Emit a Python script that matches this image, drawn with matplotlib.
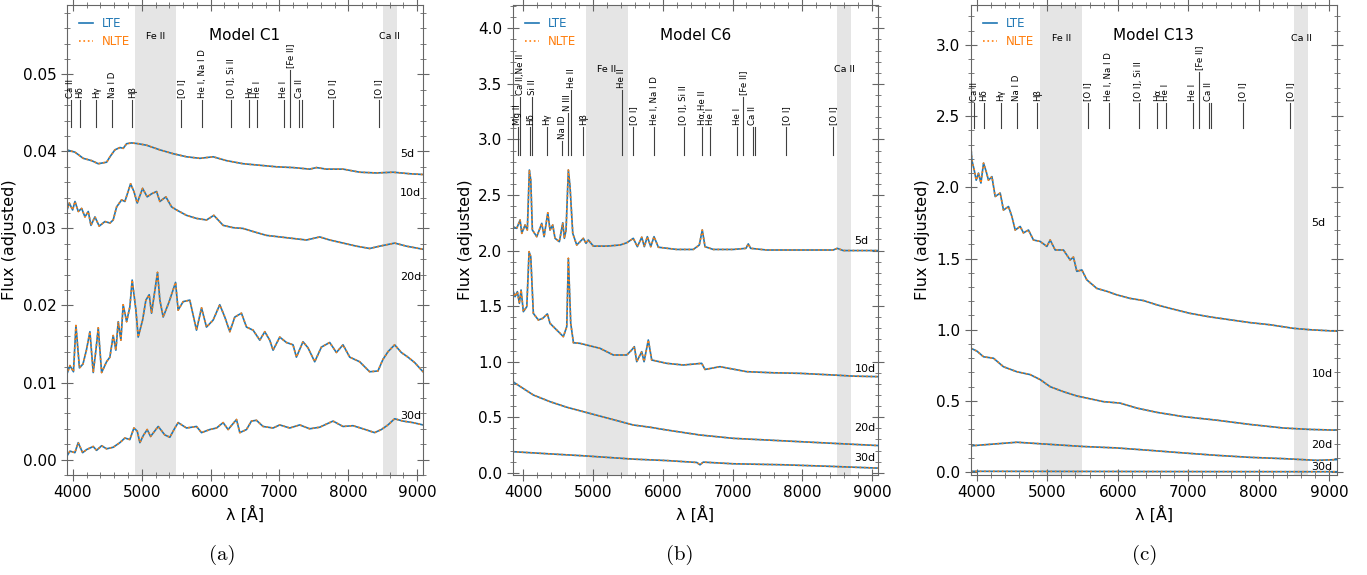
import matplotlib
matplotlib.use('Agg')
import matplotlib.pyplot as plt
from matplotlib.ticker import MultipleLocator
from matplotlib.transforms import blended_transform_factory

# ---------------- data ----------------
epochs = ['5d', '10d', '20d', '30d']

# Model C1
c1_wl_5d = [3909, 4030, 4150, 4272, 4368, 4490, 4538, 4610, 4683, 4731, 4780, 4852, 4948, 5070, 5263, 5456, 5650,
            5844, 6037, 6231, 6472, 6715, 6957, 7198, 7440, 7537, 7682, 7924, 8166, 8408, 8650, 8892, 9085]
c1_fx_5d = [0.0402, 0.0399, 0.0391, 0.0388, 0.0384, 0.0386, 0.0393, 0.0402, 0.0405, 0.0404, 0.0410, 0.0411, 0.0410,
            0.0408, 0.0402, 0.0397, 0.0393, 0.0391, 0.0393, 0.0388, 0.0384, 0.0382, 0.0380, 0.0379, 0.0377, 0.0379,
            0.0377, 0.0377, 0.0373, 0.0372, 0.0373, 0.0371, 0.0370]
c1_wl_10d = [3909, 3947, 3996, 4030, 4078, 4127, 4175, 4223, 4262, 4320, 4382, 4465, 4538, 4585, 4635, 4707, 4755,
             4838, 4886, 4934, 5012, 5079, 5143, 5215, 5263, 5350, 5433, 5505, 5650, 5796, 5941, 6047, 6182, 6327,
             6472, 6617, 6811, 7005, 7198, 7392, 7585, 7730, 7924, 8118, 8311, 8456, 8674, 8844, 9085]
c1_fx_10d = [0.0322, 0.0333, 0.0324, 0.0335, 0.0322, 0.0326, 0.0315, 0.0322, 0.0304, 0.0315, 0.0303, 0.0309, 0.0307,
             0.0311, 0.0328, 0.0337, 0.0335, 0.0358, 0.0348, 0.0333, 0.0352, 0.0341, 0.0345, 0.0348, 0.0335, 0.0341,
             0.0328, 0.0324, 0.0317, 0.0313, 0.0311, 0.0317, 0.0304, 0.0301, 0.0300, 0.0296, 0.0291, 0.0289, 0.0287,
             0.0285, 0.0289, 0.0285, 0.0281, 0.0277, 0.0274, 0.0277, 0.0281, 0.0277, 0.0273]
c1_wl_20d = [3909, 3957, 4008, 4044, 4095, 4146, 4196, 4247, 4295, 4334, 4368, 4417, 4489, 4537, 4585, 4624, 4658,
             4697, 4730, 4780, 4827, 4861, 4915, 4948, 5012, 5060, 5108, 5142, 5229, 5263, 5311, 5398, 5491, 5528,
             5601, 5698, 5795, 5868, 5940, 6036, 6133, 6206, 6279, 6351, 6448, 6521, 6617, 6714, 6787, 6859, 6907,
             7004, 7101, 7197, 7246, 7342, 7415, 7512, 7609, 7730, 7827, 7923, 8020, 8165, 8310, 8430, 8503, 8576,
             8673, 8770, 8866, 8963, 9085]
c1_fx_20d = [0.0110, 0.0122, 0.0114, 0.0174, 0.0119, 0.0124, 0.0142, 0.0166, 0.0113, 0.0142, 0.0171, 0.0113, 0.0127,
             0.0133, 0.0161, 0.0142, 0.0179, 0.0155, 0.0201, 0.0179, 0.0198, 0.0233, 0.0194, 0.0159, 0.0181, 0.0207,
             0.0214, 0.0190, 0.0243, 0.0207, 0.0185, 0.0205, 0.0230, 0.0194, 0.0205, 0.0207, 0.0168, 0.0197, 0.0172,
             0.0181, 0.0201, 0.0185, 0.0166, 0.0185, 0.0190, 0.0172, 0.0168, 0.0155, 0.0166, 0.0155, 0.0142, 0.0159,
             0.0152, 0.0149, 0.0133, 0.0153, 0.0145, 0.0127, 0.0146, 0.0152, 0.0139, 0.0149, 0.0133, 0.0127, 0.0114,
             0.0115, 0.0130, 0.0140, 0.0149, 0.0139, 0.0133, 0.0126, 0.0114]
c1_wl_30d = [3909, 3957, 4029, 4077, 4141, 4199, 4295, 4344, 4417, 4489, 4585, 4682, 4755, 4827, 4886, 4934, 4973,
             5021, 5079, 5128, 5239, 5335, 5408, 5481, 5529, 5650, 5795, 5868, 5988, 6086, 6182, 6254, 6376, 6424,
             6521, 6593, 6666, 6762, 6907, 7004, 7149, 7294, 7439, 7584, 7778, 7923, 8068, 8213, 8382, 8480, 8576,
             8673, 8793, 8938, 9085]
c1_fx_30d = [0.0004, 0.0011, 0.0009, 0.0022, 0.0009, 0.0013, 0.0017, 0.0012, 0.0018, 0.0014, 0.0016, 0.0022, 0.0028,
             0.0026, 0.0041, 0.0037, 0.0022, 0.0031, 0.0039, 0.0030, 0.0043, 0.0032, 0.0029, 0.0041, 0.0048, 0.0041,
             0.0043, 0.0035, 0.0039, 0.0041, 0.0048, 0.0039, 0.0052, 0.0035, 0.0039, 0.0050, 0.0051, 0.0043, 0.0041,
             0.0045, 0.0041, 0.0045, 0.0040, 0.0042, 0.0050, 0.0043, 0.0044, 0.0040, 0.0035, 0.0039, 0.0045, 0.0053,
             0.0050, 0.0048, 0.0045]

# Model C6
c6_wl_5d = [3850, 3907, 3955, 3979, 4026, 4059, 4088, 4108, 4131, 4194, 4266, 4299, 4352, 4384, 4423, 4456, 4518,
            4567, 4590, 4614, 4647, 4671, 4710, 4767, 4862, 4900, 4933, 5005, 5197, 5388, 5484, 5578, 5636, 5699,
            5736, 5779, 5828, 5875, 5937, 6200, 6438, 6524, 6567, 6606, 6725, 7011, 7193, 7226, 7260, 7490, 7967,
            8444, 8501, 8588, 9090]
c6_fx_5d = [2.215, 2.20, 2.275, 2.155, 2.23, 2.185, 2.725, 2.635, 2.185, 2.125, 2.245, 2.125, 2.34, 2.185, 2.23, 2.11,
            2.08, 2.25, 2.11, 2.185, 2.725, 2.575, 2.155, 2.05, 2.11, 2.065, 2.095, 2.04, 2.04, 2.05, 2.07, 2.11,
            2.035, 2.12, 2.035, 2.125, 2.035, 2.125, 2.03, 2.01, 2.01, 2.05, 2.185, 2.035, 2.01, 2.01, 2.02, 2.06,
            2.02, 2.005, 2.005, 2.005, 2.02, 2.0, 2.0]
c6_wl_10d = [3850, 3883, 3916, 3945, 3969, 4002, 4051, 4084, 4108, 4145, 4217, 4280, 4346, 4384, 4456, 4528, 4575,
             4624, 4647, 4681, 4720, 4814, 4910, 5101, 5292, 5484, 5555, 5593, 5627, 5699, 5732, 5793, 5842, 6057,
             6295, 6558, 6606, 6821, 7203, 7584, 7967, 8444, 8731, 9090]
c6_fx_10d = [1.645, 1.585, 1.63, 1.525, 1.645, 1.45, 1.495, 1.99, 1.945, 1.435, 1.375, 1.39, 1.43, 1.345, 1.30, 1.255,
             1.225, 1.315, 1.93, 1.345, 1.17, 1.165, 1.15, 1.12, 1.06, 1.06, 1.105, 1.135, 1.0, 1.09, 1.0, 1.195,
             1.015, 0.985, 0.97, 0.985, 0.93, 0.955, 0.91, 0.90, 0.895, 0.88, 0.87, 0.865]
c6_wl_20d = [3850, 4145, 4384, 4624, 4862, 5101, 5340, 5578, 5817, 6057, 6534, 7011, 7490, 7967, 8444, 9090]
c6_fx_20d = [0.82, 0.70, 0.64, 0.59, 0.55, 0.51, 0.47, 0.43, 0.41, 0.385, 0.34, 0.31, 0.295, 0.28, 0.265, 0.245]
c6_wl_30d = [3850, 4384, 4862, 5578, 6057, 6487, 6534, 6581, 7011, 7728, 8444, 9090]
c6_fx_30d = [0.19, 0.17, 0.153, 0.123, 0.11, 0.093, 0.072, 0.096, 0.081, 0.072, 0.057, 0.042]

# Model C13
c13_wl_5d = [3918, 3932, 3965, 3993, 4026, 4060, 4097, 4135, 4167, 4216, 4262, 4333, 4380, 4451, 4499, 4546, 4617,
             4663, 4734, 4805, 4900, 4995, 5042, 5113, 5230, 5325, 5372, 5420, 5491, 5562, 5704, 5845, 5987, 6175,
             6364, 6553, 6742, 7025, 7309, 7592, 7876, 8159, 8490, 8726, 9104]
c13_fx_5d = [2.285, 2.19, 2.12, 2.05, 2.10, 2.03, 2.17, 2.11, 2.05, 2.075, 1.935, 1.96, 1.84, 1.865, 1.795, 1.70,
             1.725, 1.68, 1.70, 1.63, 1.62, 1.585, 1.63, 1.56, 1.56, 1.49, 1.51, 1.41, 1.42, 1.35, 1.29, 1.27, 1.245,
             1.22, 1.205, 1.175, 1.15, 1.115, 1.09, 1.07, 1.05, 1.035, 1.01, 1.0, 0.99]
c13_wl_10d = [3918, 4003, 4097, 4238, 4380, 4570, 4758, 4900, 5042, 5230, 5420, 5608, 5797, 6033, 6270, 6553, 6930,
              7404, 7876, 8348, 8726, 9104]
c13_fx_10d = [0.87, 0.85, 0.81, 0.80, 0.74, 0.705, 0.685, 0.65, 0.60, 0.565, 0.535, 0.515, 0.495, 0.485, 0.45, 0.42,
              0.39, 0.365, 0.335, 0.31, 0.30, 0.295]
c13_wl_20d = [3918, 4570, 5042, 5514, 5987, 6459, 6930, 7404, 7876, 8348, 8821, 9104]
c13_fx_20d = [0.185, 0.21, 0.195, 0.18, 0.17, 0.153, 0.135, 0.118, 0.104, 0.095, 0.083, 0.088]
c13_wl_30d = [3918, 5500, 7000, 9104]
c13_fx_30d = [0.006, 0.005, 0.004, 0.003]

# shaded regions and their labels
band_ranges = [(4900, 5500), (8500, 8700)]
band_names = ['Fe II', 'Ca II']
band_centres = [5200, 8600]

# line identifications (models C1 and C13)
id_wl = [3968, 4102, 4340, 4571, 4861, 5577, 5876, 6300, 6563, 6678, 7065, 7155, 7291, 7324, 7774, 8446]
id_lab = ['Ca II', 'Hδ', 'Hγ', 'Na I D', 'Hβ', '[O I]', 'He I, Na I D', '[O I], Si II', 'Hα', 'He I', 'He I',
          '[Fe II]', 'Ca II', '', '[O I]', '[O I]']
id_raised = [0, 0, 0, 0, 0, 0, 0, 0, 0, 0, 0, 1, 0, 0, 0, 0]

# line identifications (model C6)
c6_id_wl = [3925, 3960, 4102, 4130, 4340, 4560, 4640, 4686, 4861, 5411, 5577, 5876, 6300, 6563, 6678, 7065, 7155,
            7291, 7324, 7774, 8446]
c6_id_lab = ['Mg II', 'Ca II,Ne II', 'Hδ', 'Si II', 'Hγ', 'Na ID', 'N III', 'He II', 'Hβ', 'He II', '[O I]',
             'He I, Na I D', '[O I], Si II', 'Hα,He II', 'He I', 'He I', '[Fe II]', 'Ca II', '', '[O I]', '[O I]']
c6_id_level = [0, 2, 0, 2, 0, -1, 1, 3, 0, 3, 0, 0, 0, 0, 0, 0, 2, 0, 0, 0, 0]


def style_axes(ax, xlim, ylim, ymajor, yminor):
    ax.set_xlim(*xlim)
    ax.set_ylim(*ylim)
    ax.xaxis.set_major_locator(MultipleLocator(1000))
    ax.xaxis.set_minor_locator(MultipleLocator(200))
    ax.yaxis.set_major_locator(MultipleLocator(ymajor))
    ax.yaxis.set_minor_locator(MultipleLocator(yminor))
    ax.tick_params(which='both', direction='inout', top=True, right=True, color='0.4', labelsize=11)
    ax.tick_params(which='major', length=8)
    ax.tick_params(which='minor', length=5)
    for s in ax.spines.values():
        s.set_color('0.4')
    ax.set_xlabel('λ [Å]', fontsize=11.5)
    ax.set_ylabel('Flux (adjusted)', fontsize=11.5)


def draw_spectra(ax, spectra, day_y, title, band_y):
    for lo, hi in band_ranges:
        ax.axvspan(lo, hi, color='gray', alpha=0.2, lw=0, zorder=0)
    for i, (wl, fx) in enumerate(spectra):
        # LTE and NLTE are indistinguishable at this scale
        ax.plot(wl, fx, color='C0', lw=1.2, label='LTE' if i == 0 else None)
        ax.plot(wl, fx, color='C1', lw=1.2, ls=':', label='NLTE' if i == 0 else None)
    for lab, y in zip(epochs, day_y):
        ax.text(8750, y, lab, fontsize=8, ha='left', va='center')
    ax.text(0.5, 0.935, title, transform=ax.transAxes, ha='center', va='center', fontsize=11)
    trans = blended_transform_factory(ax.transData, ax.transAxes)
    for name, c in zip(band_names, band_centres):
        ax.text(c, band_y, name, transform=trans, ha='center', va='center', fontsize=6.8)
    ax.legend(loc='upper left', frameon=False, fontsize=8.5, handlelength=1.2, labelcolor='linecolor',
              borderaxespad=0.6, labelspacing=0.45)


def draw_ids(ax, wls, labs, tops, bottoms):
    trans = blended_transform_factory(ax.transData, ax.transAxes)
    for wl, lab, top, bot in zip(wls, labs, tops, bottoms):
        ax.plot([wl, wl], [bot, top], transform=trans, color='0.25', lw=0.8)
        if lab:
            ax.text(wl, top + 0.004, lab, transform=trans, rotation=90, ha='center', va='bottom', fontsize=6.2)


fig = plt.figure(figsize=(13.67, 5.75), dpi=100)
ax_a = fig.add_axes([0.0488, 0.1739, 0.2609, 0.8174])
ax_b = fig.add_axes([0.3751, 0.1739, 0.2674, 0.8174])
ax_c = fig.add_axes([0.7101, 0.1739, 0.2677, 0.8174])

# (a) Model C1
draw_spectra(ax_a, [(c1_wl_5d, c1_fx_5d), (c1_wl_10d, c1_fx_10d), (c1_wl_20d, c1_fx_20d), (c1_wl_30d, c1_fx_30d)],
             [0.0396, 0.0346, 0.0237, 0.0056], 'Model C1', 0.933)
style_axes(ax_a, (3910, 9090), (-0.002, 0.059), 0.01, 0.002)
draw_ids(ax_a, id_wl, id_lab, [0.862 if r else 0.798 for r in id_raised], [0.740] * len(id_wl))

# (b) Model C6
draw_spectra(ax_b, [(c6_wl_5d, c6_fx_5d), (c6_wl_10d, c6_fx_10d), (c6_wl_20d, c6_fx_20d), (c6_wl_30d, c6_fx_30d)],
             [2.087, 0.93, 0.405, 0.13], 'Model C6', 0.862)
style_axes(ax_b, (3850, 9090), (-0.02, 4.21), 0.5, 0.1)
level_top = {-1: 0.711, 0: 0.740, 1: 0.770, 2: 0.804, 3: 0.819}
draw_ids(ax_b, c6_id_wl, c6_id_lab, [level_top[l] for l in c6_id_level], [0.681] * len(c6_id_wl))

# (c) Model C13
draw_spectra(ax_c, [(c13_wl_5d, c13_fx_5d), (c13_wl_10d, c13_fx_10d), (c13_wl_20d, c13_fx_20d),
                    (c13_wl_30d, c13_fx_30d)],
             [1.748, 0.69, 0.188, 0.036], 'Model C13', 0.929)
style_axes(ax_c, (3915, 9105), (-0.02, 3.28), 0.5, 0.1)
draw_ids(ax_c, id_wl, id_lab, [0.858 if r else 0.791 for r in id_raised], [0.738] * len(id_wl))

for x, lab in zip([0.1624, 0.4974, 0.8376], ['(a)', '(b)', '(c)']):
    fig.text(x, 0.035, lab, ha='center', va='center', fontsize=15, family='cmr10')

fig.savefig('out.png', dpi=100)
